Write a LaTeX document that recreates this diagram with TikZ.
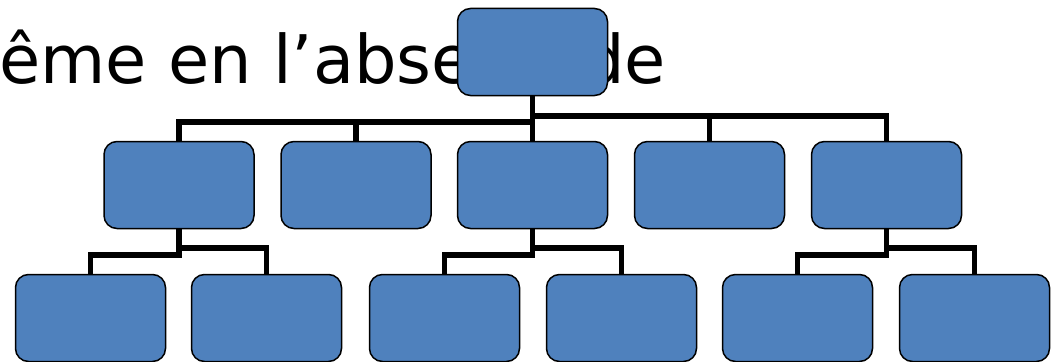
\documentclass[tikz,border=0pt]{standalone}
\usepackage{fontspec}
\newfontfamily\dejavu{DejaVu Sans}
\definecolor{boxblue}{HTML}{4F81BD}
\begin{document}
\begin{tikzpicture}[x=1pt,y=1pt,
  box/.style={draw=black, line width=1.5pt, fill=boxblue, rounded corners=13pt,
    minimum width=150pt, minimum height=87pt, inner sep=0pt, outer sep=0pt},
  conn/.style={draw=black, line width=5.5pt},
  big/.style={anchor=base west, inner sep=0pt, font=\dejavu\fontsize{67}{80}\selectfont}]
\useasboundingbox (0,0) rectangle (1056,-361);
\node[big] (title) at (-1,-83.3) {ême en l’abse};
\node[big] (title2) at (582,-83.3) {de};
% levels
\node[box] (top) at (532.5,-52) {};
\node[box] (b1) at (179,-185) {};
\node[box] (b2) at (356,-185) {};
\node[box] (b3) at (532.5,-185) {};
\node[box] (b4) at (709.5,-185) {};
\node[box] (b5) at (886.5,-185) {};
\node[box] (c1) at (90.5,-318) {};
\node[box] (c2) at (266.5,-318) {};
\node[box] (c3) at (444.5,-318) {};
\node[box] (c4) at (621.5,-318) {};
\node[box] (c5) at (797.5,-318) {};
\node[box] (c6) at (974.5,-318) {};
% junction levels
\coordinate (yL) at (0,-122);
\coordinate (yR) at (0,-116);
\coordinate (zL) at (0,-255);
\coordinate (zR) at (0,-248);
% top connectors
\draw[conn] (top.south) -- (top.south |- yL) -| (b1.north);
\draw[conn] (top.south |- yL) -| (b2.north);
\draw[conn] (top.south) -- (b3.north);
\draw[conn] (top.south) -- (top.south |- yR) -| (b4.north);
\draw[conn] (top.south |- yR) -| (b5.north);
% second level connectors
\draw[conn] (b1.south) -- (b1.south |- zL) -| (c1.north);
\draw[conn] (b1.south |- zR) -| (c2.north);
\draw[conn] (b3.south) -- (b3.south |- zL) -| (c3.north);
\draw[conn] (b3.south |- zR) -| (c4.north);
\draw[conn] (b5.south) -- (b5.south |- zL) -| (c5.north);
\draw[conn] (b5.south |- zR) -| (c6.north);
\end{tikzpicture}
\end{document}
